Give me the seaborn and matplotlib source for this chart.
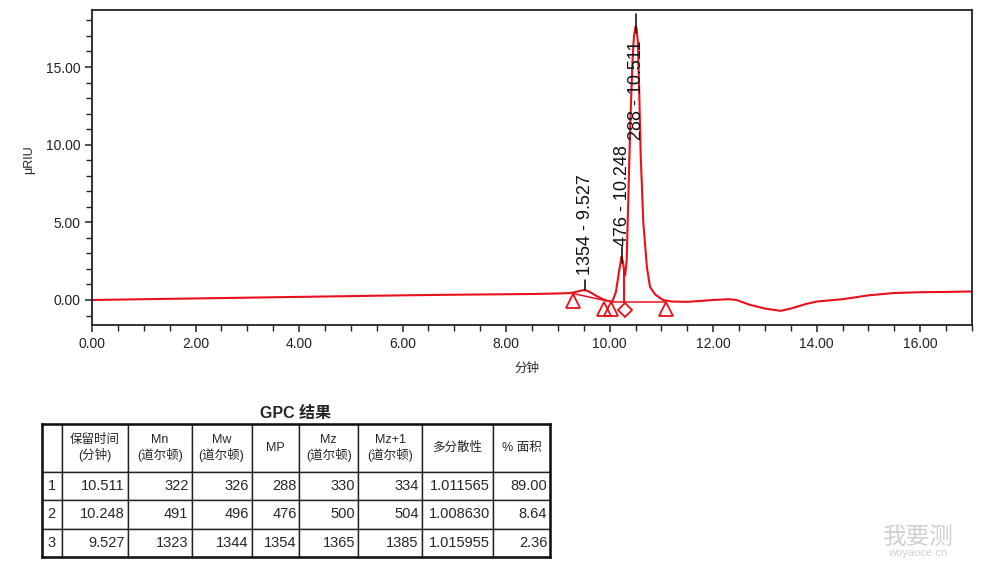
# GPC chromatogram with result table

import pandas as pd
import numpy as np
import matplotlib.pyplot as plt
import seaborn as sns


############################ Data ##################################

# detector trace (minutes, uRIU)
time_min = [0.0, 1.0, 2.0, 3.0, 4.0, 5.0, 6.0, 7.0, 8.0, 8.6, 9.0, 9.2, 9.3,
            9.4, 9.5, 9.56, 9.65, 9.75, 9.85, 9.95, 10.05, 10.12, 10.18, 10.23,
            10.26, 10.28, 10.30, 10.33, 10.36, 10.40, 10.44, 10.47, 10.50,
            10.52, 10.545, 10.57, 10.60, 10.65, 10.72, 10.78, 10.88, 11.03,
            11.2, 11.5, 11.8, 12.0, 12.3, 12.45, 12.7, 13.0, 13.3, 13.5, 13.8,
            14.0, 14.5, 15.0, 15.5, 16.0, 16.5, 17.0]
signal = [0.0, 0.05, 0.1, 0.15, 0.2, 0.25, 0.3, 0.34, 0.37, 0.39, 0.42, 0.44,
          0.48, 0.56, 0.64, 0.6, 0.45, 0.25, 0.08, -0.05, -0.1, 0.5, 1.8, 2.8,
          2.4, 1.8, 1.6, 2.6, 6.5, 11.5, 15.3, 17.0, 17.6, 17.5, 16.6, 13.6,
          9.3, 5.0, 2.1, 0.84, 0.35, 0.0, -0.1, -0.12, -0.05, 0.0, 0.05, 0.0,
          -0.3, -0.55, -0.7, -0.55, -0.25, -0.1, 0.05, 0.3, 0.45, 0.5, 0.52,
          0.55]

# integration baselines and drop line
base1_x = [9.29, 9.93]
base1_y = [0.42, -0.05]
base2_x = [10.03, 11.09]
base2_y = [-0.12, -0.12]
drop_x = [10.28, 10.28]
drop_y = [1.8, -0.12]

# peak start/end markers
tri_x = [9.29, 9.90, 10.03, 11.09]
tri_y = [-0.05, -0.58, -0.58, -0.58]
dia_x = [10.30]
dia_y = [-0.62]

# peak labels: retention time, label tick ends, text start, label text
peak_rt = [9.527, 10.248, 10.511]
peak_tick_lo = [0.65, 2.4, 17.2]
peak_tick_hi = [1.3, 3.4, 18.4]
peak_text_y = [1.6, 3.5, 10.3]
peak_labels = ['1354 - 9.527', '476 - 10.248', '288 - 10.511']

# GPC results table
col_labels = ['', '保留时间\n(分钟)', 'Mn\n(道尔顿)', 'Mw\n(道尔顿)', 'MP',
              'Mz\n(道尔顿)', 'Mz+1\n(道尔顿)', '多分散性', '% 面积']
row_ids = ['1', '2', '3']
ret_time = ['10.511', '10.248', '9.527']
mn = ['322', '491', '1323']
mw = ['326', '496', '1344']
mp = ['288', '476', '1354']
mz = ['330', '500', '1365']
mz1 = ['334', '504', '1385']
pdi = ['1.011565', '1.008630', '1.015955']
area = ['89.00', '8.64', '2.36']


############################ Plot ##################################

sns.set_style('ticks')
plt.rcParams['font.family'] = ['Liberation Sans', 'Noto Sans CJK SC', 'DejaVu Sans']

fig = plt.figure(figsize=(9.82, 5.67), dpi=100)
ax = fig.add_axes([92 / 982, 1 - 325 / 567, 880 / 982, 315 / 567])

red = '#e8101a'
trace = pd.DataFrame({'time': time_min, 'signal': signal})
sns.lineplot(data=trace, x='time', y='signal', color=red, linewidth=1.5,
             estimator=None, sort=False, ax=ax)

ax.plot(base1_x, base1_y, color=red, lw=1.1)
ax.plot(base2_x, base2_y, color=red, lw=1.1)
ax.plot(drop_x, drop_y, color=red, lw=1.5)
ax.plot(tri_x, tri_y, linestyle='', marker='^', markersize=10,
        markerfacecolor='none', markeredgecolor=red, markeredgewidth=1.3)
ax.plot(dia_x, dia_y, linestyle='', marker='D', markersize=7,
        markerfacecolor='none', markeredgecolor=red, markeredgewidth=1.3)

# peak labels
for rt, lo, hi, ty, lab in zip(peak_rt, peak_tick_lo, peak_tick_hi,
                               peak_text_y, peak_labels):
    ax.plot([rt, rt], [lo, hi], color='black', lw=1.1)
    ax.text(rt, ty, lab, rotation=90, ha='center', va='bottom',
            fontsize=13, color='#111111')

ax.set_xlim(0, 17)
ax.set_ylim(-1.61, 18.67)
ax.set_xticks(np.arange(0, 17, 2))
ax.set_xticks(np.arange(0, 17.01, 0.5), minor=True)
ax.set_yticks([0, 5, 10, 15])
ax.set_yticks(np.arange(-1, 19, 1), minor=True)
ax.xaxis.set_major_formatter(plt.FormatStrFormatter('%.2f'))
ax.yaxis.set_major_formatter(plt.FormatStrFormatter('%.2f'))
ax.tick_params(which='major', direction='out', length=5, width=1.1,
               labelsize=10, colors='#222222')
ax.tick_params(which='minor', direction='out', length=4, width=1.0,
               colors='#222222')
for sp in ax.spines.values():
    sp.set_visible(True)
    sp.set_linewidth(1.3)
    sp.set_color('#222222')

ax.set_xlabel('分钟', fontsize=9)
ax.set_ylabel('μRIU', fontsize=9)
ax.xaxis.set_label_coords((527 - 92) / 880, (325 - 363) / 315)
ax.yaxis.set_label_coords((35 - 92) / 880, (325 - 160) / 315)

# results table
tab_ax = fig.add_axes([41.7 / 982, 1 - 557 / 567, 508.3 / 982, 133 / 567])
tab_ax.set_xticks([])
tab_ax.set_yticks([])
for sp in tab_ax.spines.values():
    sp.set_linewidth(1.8)
    sp.set_color('#111111')

rows = [list(r) for r in zip(row_ids, ret_time, mn, mw, mp, mz, mz1, pdi, area)]
col_px = [20, 66.6, 63.4, 60, 47.6, 59.3, 63.4, 71.6, 56.7]
col_w = [c / sum(col_px) for c in col_px]
table = tab_ax.table(cellText=rows, colLabels=col_labels, colWidths=col_w,
                     bbox=[0, 0, 1, 1], cellLoc='right')
table.auto_set_font_size(False)
for (r, c), cell in table.get_celld().items():
    cell.set_linewidth(1.0)
    cell.set_edgecolor('#222222')
    if r == 0:
        cell.set_height(48)
        cell.get_text().set_ha('center')
        cell.get_text().set_fontsize(9)
    else:
        cell.set_height(28.4)
        cell.get_text().set_fontsize(10.5)
        if c == 0:
            cell.get_text().set_ha('left')
            cell.PAD = 0.3
        else:
            cell.PAD = 0.05

fig.text(296 / 982, 1 - 413 / 567, 'GPC 结果', ha='center', va='center',
         fontsize=11.5, fontweight='bold')

# watermark
fig.text(918 / 982, 1 - 538 / 567, '我要测', ha='center', va='center',
         fontsize=17, color='#d0d0d0')
fig.text(918 / 982, 1 - 553 / 567, 'woyaoce.cn', ha='center', va='center',
         fontsize=8, color='#d0d0d0')

fig.savefig('out.png', dpi=100)
